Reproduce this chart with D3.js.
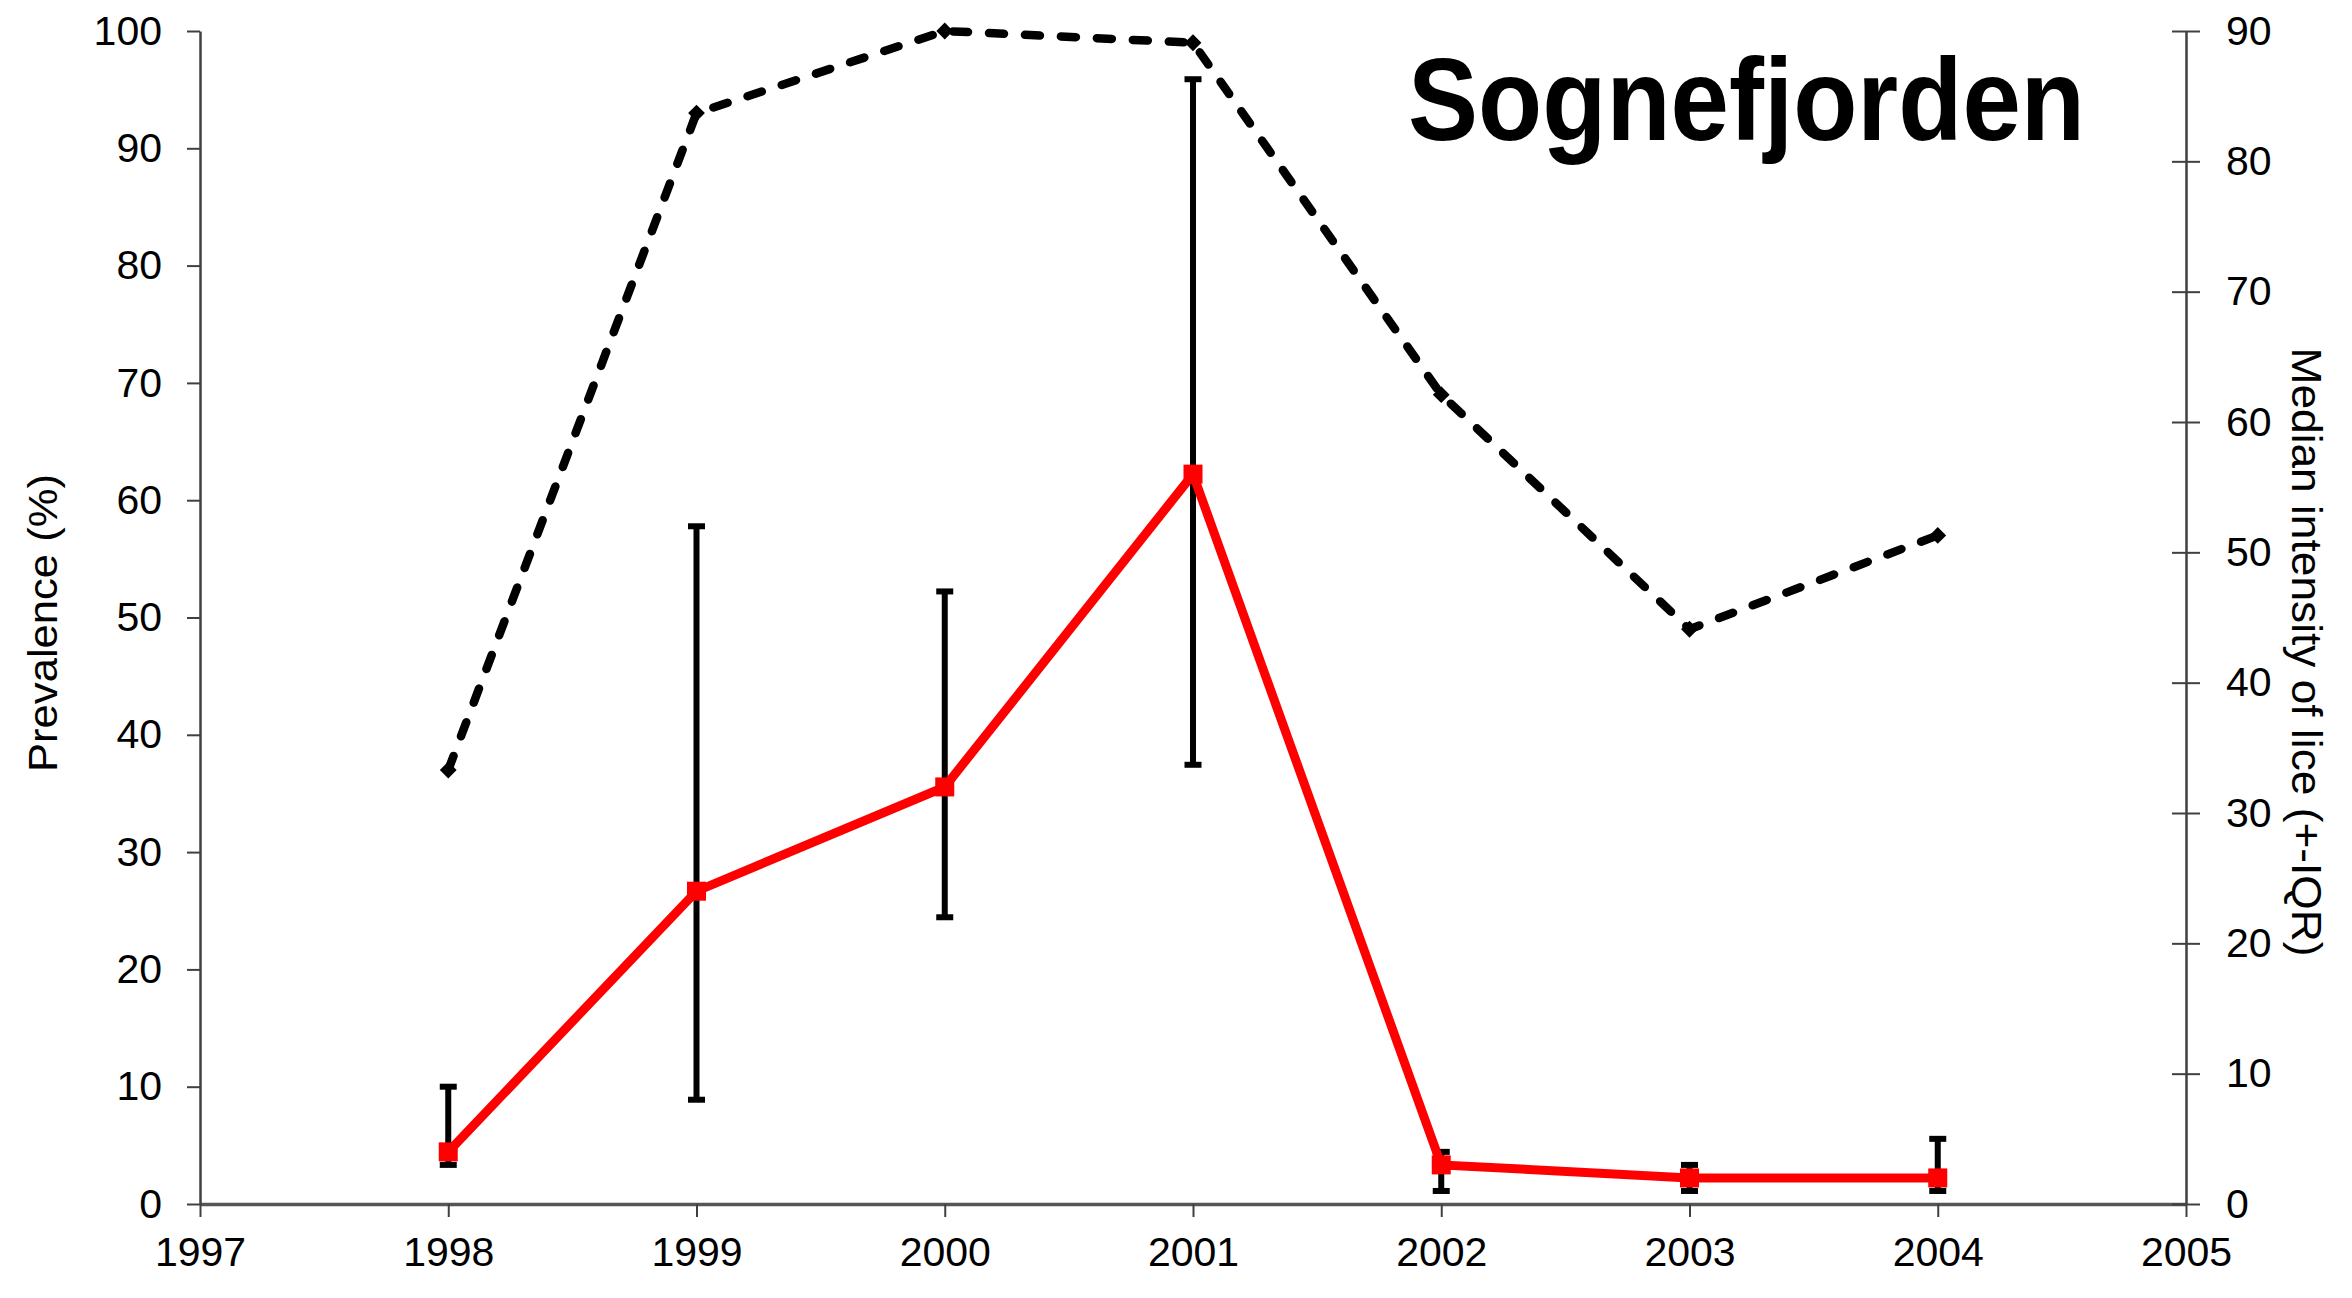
<!DOCTYPE html>
<html>
<head>
<meta charset="utf-8">
<script src="https://cdn.jsdelivr.net/npm/d3@7"></script>
<style>
  body { margin: 0; background: #fff; }
  svg text { font-family: "Liberation Sans", Arial, sans-serif; fill: #000; }
</style>
</head>
<body>
<div id="chart"></div>
<script>
// data
var years = [1998, 1999, 2000, 2001, 2002, 2003, 2004];
var prevalence = [37, 93, 100, 99, 69, 49, 57];          // left axis, %
var medianIntensity = [4, 24, 32, 56, 3, 2, 2];          // right axis
var iqrLow = [3, 8, 22, 33.7, 1, 1, 1];
var iqrHigh = [9, 52, 47, 86.3, 4, 3, 5];
var xTicks = [1997, 1998, 1999, 2000, 2001, 2002, 2003, 2004, 2005];
var leftTicks = [0, 10, 20, 30, 40, 50, 60, 70, 80, 90, 100];
var rightTicks = [0, 10, 20, 30, 40, 50, 60, 70, 80, 90];

var width = 2352;
var height = 1298;

const svg = d3.select("#chart").append("svg")
    .attr("width", width).attr("height", height);

var x = d3.scaleLinear().domain([1997, 2005]).range([200, 2186]);
var yL = d3.scaleLinear().domain([0, 100]).range([1204, 31]);
var yR = d3.scaleLinear().domain([0, 90]).range([1204, 31]);

// axes
var gx = svg.append("g")
    .attr("transform", "translate(0,1204)")
    .call(d3.axisBottom(x).tickValues(xTicks).tickFormat(d3.format("d"))
        .tickSize(13).tickSizeOuter(0).tickPadding(20));

var gl = svg.append("g")
    .attr("transform", "translate(200,0)")
    .call(d3.axisLeft(yL).tickValues(leftTicks)
        .tickSize(13).tickSizeOuter(0).tickPadding(25));

var gr = svg.append("g")
    .attr("transform", "translate(2186,0)")
    .call(d3.axisRight(yR).tickValues(rightTicks)
        .tickSize(14).tickSizeOuter(0).tickPadding(26));
gr.selectAll(".tick line").attr("x1", -14);

[gx, gl, gr].forEach(function(g) {
    g.selectAll("text").attr("font-size", 41).attr("font-family", null);
    g.select(".domain").attr("stroke", "#404040").attr("stroke-width", 2.5);
    g.selectAll(".tick line").attr("stroke", "#404040").attr("stroke-width", 2);
});
gx.select(".domain").attr("stroke", "#555").attr("stroke-width", 3.5);

// prevalence, dashed black
var prevData = years.map((y, i) => ({ year: y, v: prevalence[i] }));
svg.append("path")
    .datum(prevData)
    .attr("fill", "none")
    .attr("stroke", "#000")
    .attr("stroke-width", 8.5)
    .attr("stroke-linecap", "round")
    .attr("stroke-dasharray", "15,21")
    .attr("d", d3.line().x(d => x(d.year)).y(d => yL(d.v)));

svg.append("g").selectAll("path").data(prevData).enter().append("path")
    .attr("transform", d => `translate(${x(d.year)},${yL(d.v)})`)
    .attr("d", d3.symbol().type(d3.symbolDiamond2).size(180))
    .attr("fill", "#000");

// IQR error bars
var ebData = years.map((y, i) => ({ year: y, lo: iqrLow[i], hi: iqrHigh[i] }));
var eb = svg.append("g").attr("stroke", "#000").attr("stroke-width", 6);
eb.selectAll("line.v").data(ebData).enter().append("line")
    .attr("class", "v")
    .attr("x1", d => x(d.year)).attr("x2", d => x(d.year))
    .attr("y1", d => yR(d.lo)).attr("y2", d => yR(d.hi));
eb.selectAll("line.hi").data(ebData).enter().append("line")
    .attr("class", "hi")
    .attr("x1", d => x(d.year) - 8.5).attr("x2", d => x(d.year) + 8.5)
    .attr("y1", d => yR(d.hi)).attr("y2", d => yR(d.hi));
eb.selectAll("line.lo").data(ebData).enter().append("line")
    .attr("class", "lo")
    .attr("x1", d => x(d.year) - 8.5).attr("x2", d => x(d.year) + 8.5)
    .attr("y1", d => yR(d.lo)).attr("y2", d => yR(d.lo));

// median intensity, red
var medData = years.map((y, i) => ({ year: y, v: medianIntensity[i] }));
svg.append("path")
    .datum(medData)
    .attr("fill", "none")
    .attr("stroke", "#ff0000")
    .attr("stroke-width", 9)
    .attr("d", d3.line().x(d => x(d.year)).y(d => yR(d.v)));

svg.append("g").selectAll("rect").data(medData).enter().append("rect")
    .attr("x", d => x(d.year) - 9.5)
    .attr("y", d => yR(d.v) - 9.5)
    .attr("width", 19).attr("height", 19)
    .attr("fill", "#ff0000");

// titles
svg.append("text")
    .attr("transform", "translate(57,623) rotate(-90)")
    .attr("text-anchor", "middle")
    .attr("font-size", 41)
    .attr("textLength", 298)
    .attr("lengthAdjust", "spacingAndGlyphs")
    .text("Prevalence (%)");

svg.append("text")
    .attr("transform", "translate(2292,652) rotate(90)")
    .attr("text-anchor", "middle")
    .attr("font-size", 43)
    .attr("textLength", 609)
    .attr("lengthAdjust", "spacingAndGlyphs")
    .text("Median intensity of lice (+-IQR)");

svg.append("text")
    .attr("x", 1408).attr("y", 140)
    .attr("font-size", 116)
    .attr("font-weight", "bold")
    .attr("textLength", 677)
    .attr("lengthAdjust", "spacingAndGlyphs")
    .text("Sognefjorden");
</script>
</body>
</html>
